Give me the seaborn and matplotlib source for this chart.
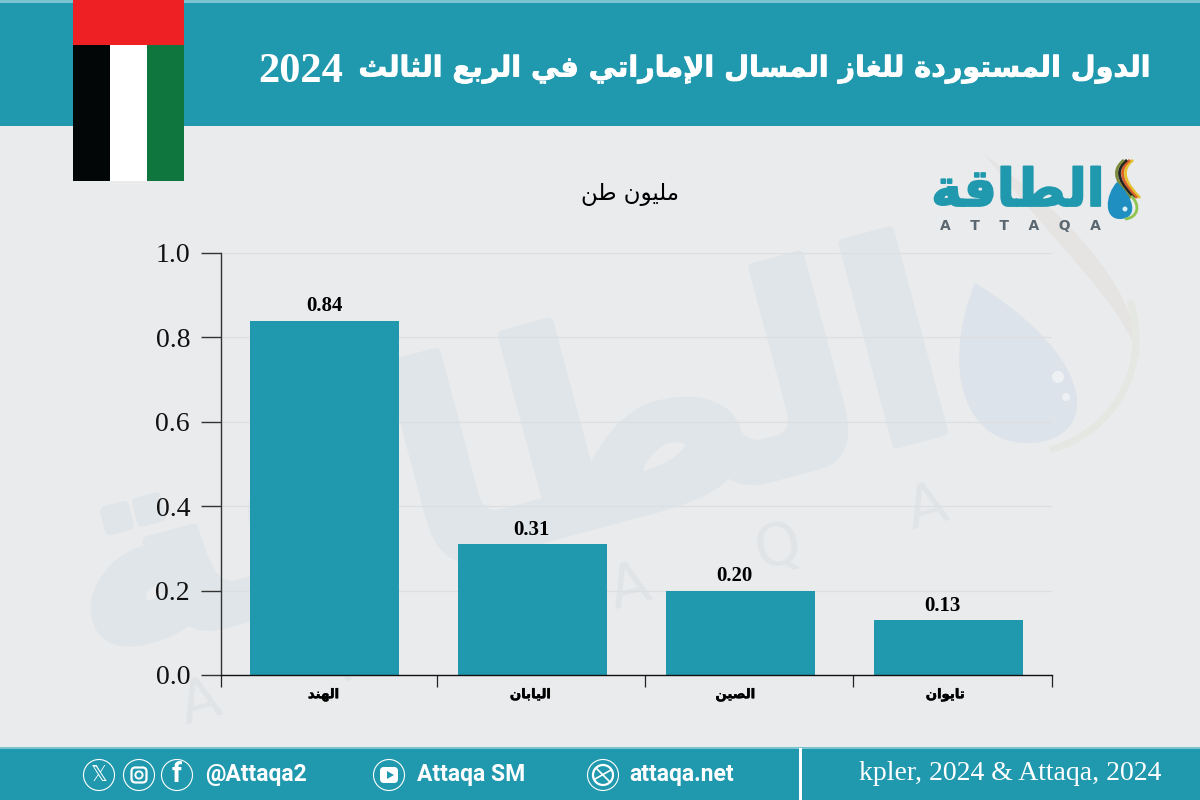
import re
import unicodedata
import numpy as np
import pandas as pd
import seaborn as sns
import matplotlib
matplotlib.use("Agg")
import matplotlib.pyplot as plt
import matplotlib.patheffects as pe
from matplotlib.patches import Rectangle, Circle, FancyBboxPatch, PathPatch, Polygon
from matplotlib.path import Path
from matplotlib.ticker import FixedLocator, NullFormatter
from matplotlib.transforms import ScaledTranslation

# ---------- data ----------
countries = ["الهند", "اليابان", "الصين", "تايوان"]
volumes = [0.84, 0.31, 0.20, 0.13]
y_ticks = [0.0, 0.2, 0.4, 0.6, 0.8, 1.0]
title_text = "الدول المستوردة للغاز المسال الإماراتي في الربع الثالث"
title_year = "2024"
unit_text = "مليون طن"
logo_text = "الطاقة"
logo_latin = "A    T    T    A    Q    A"
mark_latin = "A      T      T      A      Q      A"
source_text = "kpler, 2024 & Attaqa, 2024"
handles = ["@Attaqa2", "Attaqa SM", "attaqa.net"]

TEAL = "#2098AE"
BG = "#E9EBED"


# ---------- Arabic shaping (matplotlib has no bidi/joining) ----------
forms, ligs = {}, {}
for cp in range(0xFE70, 0xFEFD):
    d = unicodedata.decomposition(chr(cp)).split()
    if len(d) >= 2 and d[0] in ("<isolated>", "<final>", "<initial>", "<medial>"):
        base = "".join(chr(int(x, 16)) for x in d[1:])
        if len(base) == 1:
            forms.setdefault(base, {})[d[0]] = chr(cp)
        elif len(base) == 2 and base[0] == "ل":
            ligs.setdefault(base, {})[d[0]] = chr(cp)


def shape(s):
    out, i = [], 0
    def dual(c):
        return c in forms and "<initial>" in forms[c]
    while i < len(s):
        c = s[i]
        if c not in forms:
            out.append(c)
            i += 1
            continue
        prev = s[i - 1] if i else ""
        joined_prev = dual(prev)
        if s[i:i + 2] in ligs:
            out.append(ligs[s[i:i + 2]]["<final>" if joined_prev else "<isolated>"])
            i += 2
            continue
        nxt = s[i + 1] if i + 1 < len(s) else ""
        joins_next = dual(c) and nxt in forms
        key = ("<medial>" if joins_next else "<final>") if joined_prev else ("<initial>" if joins_next else "<isolated>")
        out.append(forms[c].get(key, forms[c]["<isolated>"]))
        i += 1
    visual = "".join(out)[::-1]
    return re.sub(r"[0-9.]+", lambda m: m.group(0)[::-1], visual)


def curve(points):
    return Path(points, [Path.MOVETO] + [Path.CURVE4] * (len(points) - 1))


# ---------- figure ----------
sns.set_theme(style="white")
plt.rcParams["font.family"] = ["Liberation Serif", "DejaVu Sans"]
fig = plt.figure(figsize=(12, 8), dpi=100, facecolor=BG)

bg = fig.add_axes([0, 0, 1, 1], zorder=0)
bg.set_xlim(0, 1200)
bg.set_ylim(800, 0)
bg.axis("off")
fg = fig.add_axes([0, 0, 1, 1], zorder=3)
fg.set_xlim(0, 1200)
fg.set_ylim(800, 0)
fg.axis("off")
fg.patch.set_alpha(0)

# watermark
WM = "#DFE5E9"
bg.text(508, 470, shape(logo_text), fontsize=196, fontweight="bold", family="DejaVu Sans",
        color=WM, rotation=15, ha="center", va="center", rotation_mode="anchor",
        path_effects=[pe.withStroke(linewidth=7, foreground=WM)])
bg.text(564, 606, mark_latin, fontsize=42, color="#E1E4E7", family="DejaVu Sans", rotation=15,
        ha="center", va="center", rotation_mode="anchor")
bg.add_patch(PathPatch(curve([(985, 155), (1060, 210), (1135, 280), (1140, 360),
                              (1120, 300), (1060, 250), (985, 155)]), fc="#E5E4E2", ec="none"))
bg.add_patch(PathPatch(curve([(1130, 300), (1150, 360), (1120, 430), (1050, 450)]),
                       fc="none", ec="#E5E8E2", lw=5))
bg.add_patch(PathPatch(curve([(975, 283), (940, 370), (965, 445), (1030, 443),
                              (1100, 440), (1100, 360), (975, 283)]), fc="#DDE3EA", ec="none"))
bg.add_patch(Circle((1058, 377), 6, fc="#EEF1F3", ec="none"))
bg.add_patch(Circle((1066, 397), 4, fc="#EEF1F3", ec="none"))

# header
fg.add_patch(Rectangle((0, 0), 1200, 126, fc=TEAL, ec="none"))
fg.add_patch(Rectangle((0, 0), 1200, 2.5, fc="#7CC3D0", ec="none"))
bold_white = [pe.withStroke(linewidth=0.6, foreground="white")]
fg.text(1152, 69, shape(title_text), fontsize=20.6, fontweight="bold", color="white", family="DejaVu Sans",
        ha="right", va="center", path_effects=bold_white)
fg.text(258, 72, title_year, fontsize=30.5, fontweight="bold", color="white", family="Liberation Serif",
        ha="left", va="center")

# flag
fg.add_patch(Rectangle((73, 0), 111, 45, fc="#EE2024", ec="none"))
fg.add_patch(Rectangle((73, 45), 37, 136, fc="#020607", ec="none"))
fg.add_patch(Rectangle((110, 45), 37, 136, fc="white", ec="none"))
fg.add_patch(Rectangle((147, 45), 37, 136, fc="#0F773D", ec="none"))

# unit
fg.text(630, 195, shape(unit_text), fontsize=16.5, color="black", family="DejaVu Sans", ha="center", va="center")

# logo
fg.text(1018, 192, shape(logo_text), fontsize=37.5, fontweight="bold", color=TEAL, family="DejaVu Sans",
        ha="center", va="center", path_effects=[pe.withStroke(linewidth=1.3, foreground=TEAL)])
fg.text(1020, 226, logo_latin, fontsize=10, color="#5B6770", family="DejaVu Sans", fontweight="bold",
        ha="center", va="center")
for col, dx in zip(["#E5C22E", "#D9622B", "#222222", "#7A8A3A"], [6, 3, 0, -3]):
    fg.add_patch(PathPatch(curve([(1127 + dx, 160), (1112 + dx, 172), (1122 + dx, 185), (1134 + dx, 198)]),
                           fc="none", ec=col, lw=2.0))
fg.add_patch(PathPatch(curve([(1117, 182), (1105, 195), (1103, 220), (1121, 219),
                              (1138, 218), (1135, 198), (1117, 182)]), fc="#1E8FC0", ec="none"))
fg.add_patch(PathPatch(curve([(1131, 196), (1141, 205), (1138, 218), (1125, 219)]), fc="none", ec="#8FC44F", lw=2.0))
fg.add_patch(Circle((1125, 209), 2.5, fc="#D6EEF6", ec="none"))

# ---------- chart ----------
left, right, top, bottom = 220.6, 1052.4, 253, 675
ax = fig.add_axes([left / 1200, 1 - bottom / 800, (right - left) / 1200, (bottom - top) / 800], zorder=2)
ax.patch.set_alpha(0)

df = pd.DataFrame({"country": [shape(c) for c in countries], "volume": volumes})
sns.barplot(data=df, x="country", y="volume", color=TEAL, saturation=1, width=0.72, ax=ax,
            zorder=3, edgecolor="none", linewidth=0)
value_labels = ax.bar_label(ax.containers[0], fmt="%.2f", padding=3, fontsize=15, fontweight="bold",
                            color="black", family="Liberation Serif")
for lab, dx in zip(value_labels, [0, -0.7, -4.3, -4.3]):
    lab.xyann = (dx, lab.xyann[1])

ax.set_xlim(-0.5, 3.5)
ax.set_ylim(0, 1.0)
ax.set_yticks(y_ticks)
ax.set_yticklabels([f"{v:.1f}" for v in y_ticks], fontsize=20, color="#111111", family="Liberation Serif")
ax.set_xlabel("")
ax.set_ylabel("")
ax.tick_params(axis="y", which="major", length=14.5, width=1.0, color="#333333", pad=7.5, left=True)
ax.tick_params(axis="x", which="major", length=0, pad=9.5)
ax.xaxis.set_minor_locator(FixedLocator([-0.5, 0.54, 1.54, 2.54, 3.5]))
ax.xaxis.set_minor_formatter(NullFormatter())
ax.tick_params(axis="x", which="minor", length=8.5, width=0.9, color="#222222", bottom=True)
for lab, dx in zip(ax.get_xticklabels(), [-1, -2, -5, -3]):
    lab.set_family("DejaVu Sans")
    lab.set_fontweight("bold")
    lab.set_fontsize(9.5)
    lab.set_color("black")
    lab.set_path_effects([pe.withStroke(linewidth=0.35, foreground="black")])
    lab.set_transform(lab.get_transform() + ScaledTranslation(dx / 100, 0, fig.dpi_scale_trans))
ax.grid(axis="y", color="#DCDFE2", lw=0.9)
ax.set_axisbelow(True)
for s in ("top", "right"):
    ax.spines[s].set_visible(False)
ax.spines["left"].set_color("#333333")
ax.spines["left"].set_linewidth(1.0)
ax.spines["bottom"].set_color("#111111")
ax.spines["bottom"].set_linewidth(1.0)
ax.spines["bottom"].set_zorder(5)

# ---------- footer ----------
fg.add_patch(Rectangle((0, 748), 1200, 52, fc=TEAL, ec="none"))
fg.add_patch(Rectangle((0, 747), 1200, 2, fc="#7CC3D0", ec="none"))
fg.add_patch(Rectangle((798.5, 748), 3, 52, fc="white", ec="none"))
fg.text(1161, 773, source_text, fontsize=20, color="white", ha="right", va="center", family="Liberation Serif")
for x, t in zip([205, 417, 629], handles):
    fg.text(x, 775, t, fontsize=16.5, color="white", fontweight="bold", family="Roboto", ha="left", va="center")
for x in [99, 139, 177, 389, 603]:
    fg.add_patch(Circle((x, 775), 15.5, fc="none", ec="white", lw=0.8))
fg.text(99, 775, "\U0001D54F", fontsize=15, color="white", family="DejaVu Sans", ha="center", va="center")
fg.add_patch(FancyBboxPatch((131.5, 767.5), 15, 15, boxstyle="round,pad=0,rounding_size=4", fc="none", ec="white", lw=1.6))
fg.add_patch(Circle((139, 775), 3.6, fc="none", ec="white", lw=1.4))
fg.text(177, 775, "f", fontsize=20, color="white", fontweight="bold", family="Roboto", ha="center", va="center")
fg.add_patch(FancyBboxPatch((380, 767), 18, 16, boxstyle="round,pad=0,rounding_size=4", fc="white", ec="none"))
fg.add_patch(Polygon([(387, 771), (387, 779), (394, 775)], fc=TEAL, ec="none"))
fg.add_patch(Circle((603, 775), 10, fc="none", ec="white", lw=1.6))
for a, b in [((596, 768), (610, 782)), ((595, 779), (611, 770))]:
    fg.plot([a[0], b[0]], [a[1], b[1]], color="white", lw=1.2)
fg.set_xlim(0, 1200)
fg.set_ylim(800, 0)

fig.savefig("out.png", dpi=100, facecolor=BG)
